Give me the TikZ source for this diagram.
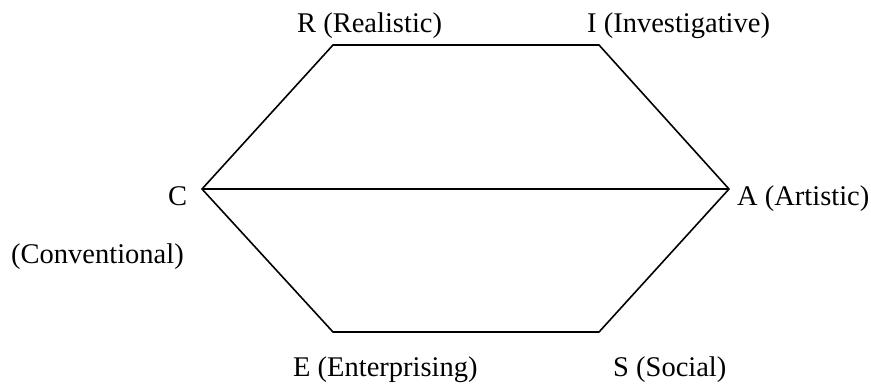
\documentclass[tikz,border=0pt]{standalone}
\usepackage{fontspec}
\setmainfont{Liberation Serif}
\begin{document}
\begin{tikzpicture}[x=1bp,y=-1bp,
  edge/.style={line width=1.6bp,line join=miter},
  lbl/.style={inner sep=0pt,anchor=base west,font=\fontsize{28.5bp}{34bp}\selectfont}]
\useasboundingbox (0,0) rectangle (871,383);
\coordinate (vR) at (333,45);
\coordinate (vI) at (599,45);
\coordinate (vA) at (729,189);
\coordinate (vS) at (599,332);
\coordinate (vE) at (333,332);
\coordinate (vC) at (202,189);
\draw[edge] (vC) -- (vR) -- (vI) -- (vA) -- (vS) -- (vE) -- cycle;
\draw[edge] (vC) -- (vA);
\node[lbl] (lR) at (297,32) {R (Realistic)};
\node[lbl] (lI) at (587,32) {I (Investigative)};
\node[lbl] (lC) at (168,205) {C};
\node[lbl] (lA) at (737,205) {A (Artistic)};
\node[lbl] (lCv) at (11,263) {(Conventional)};
\node[lbl] (lE) at (293,376) {E (Enterprising)};
\node[lbl] (lS) at (613,376) {S (Social)};
\end{tikzpicture}
\end{document}
